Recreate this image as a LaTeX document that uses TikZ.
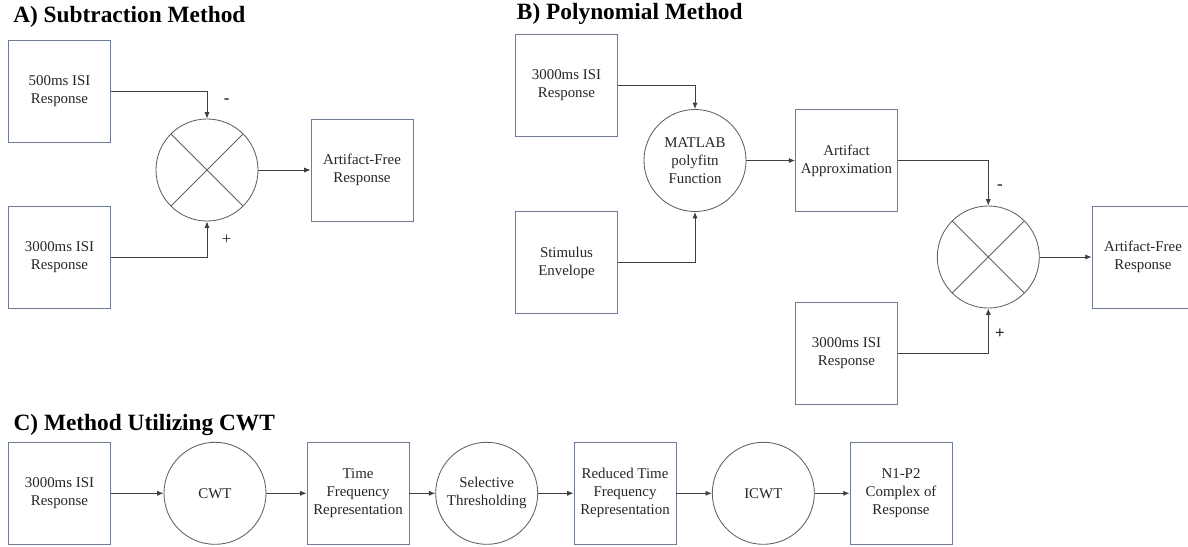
\documentclass[tikz,border=0pt]{standalone}
\usepackage{fontspec}
\setmainfont{Liberation Serif}
\usetikzlibrary{arrows.meta}
\definecolor{boxline}{RGB}{112,124,150}
\definecolor{roundline}{RGB}{95,95,95}

\begin{document}
\begin{tikzpicture}[x=0.025cm,y=-0.025cm,
    blk/.style={draw=boxline,line width=0.6pt,minimum width=2.55cm,minimum height=2.55cm,
      inner sep=0pt,align=center,text=black!85,font=\fontsize{10.6}{12.8}\selectfont},
    rnd/.style={draw=roundline,line width=0.6pt,circle,minimum size=2.55cm,
      inner sep=0pt,align=center,text=black!85,font=\fontsize{10.6}{12.8}\selectfont},
    sum/.style={rnd,path picture={
      \draw[roundline,line width=0.6pt] (path picture bounding box.north west)--(path picture bounding box.south east);
      \draw[roundline,line width=0.6pt] (path picture bounding box.north east)--(path picture bounding box.south west);}},
    conn/.style={draw=black!75,line width=0.6pt,-{Latex[length=4.5pt,width=3.6pt]}},
    sgn/.style={inner sep=0pt,text=black!85,font=\fontsize{12}{12}\selectfont},
    ttl/.style={anchor=west,inner sep=0pt,font=\fontsize{16.6}{18}\selectfont\bfseries}]
  \useasboundingbox (0,0) rectangle (1188,546);

  % A) subtraction
  \node[ttl] (ttlA) at (13,17) {A) Subtraction Method};
  \node[blk] (isiA) at (59.5,91) {500ms ISI\\Response};
  \node[blk] (longA) at (59.5,257) {3000ms ISI\\Response};
  \node[sum] (sumA) at (207,170) {};
  \node[blk] (freeA) at (362,170) {Artifact-Free\\Response};
  \draw[conn] (isiA.east) -| (sumA.north);
  \draw[conn] (longA.east) -| (sumA.south);
  \draw[conn] (sumA) -- (freeA);
  \node[sgn] (minusA) at (226.7,101) {\textbf{-}};
  \node[sgn] (plusA) at (226.7,239.3) {+};

  % B) polynomial
  \node[ttl] (ttlB) at (516.7,14) {B) Polynomial Method};
  \node[blk] (isiB) at (566.5,85) {3000ms ISI\\Response};
  \node[blk] (stimB) at (566.5,262.7) {Stimulus\\Envelope};
  \node[rnd] (fitB) at (695,160.5) {MATLAB\\polyfitn\\Function};
  \node[blk] (approxB) at (846.5,160.5) {Artifact\\Approximation};
  \node[sum] (sumB) at (988.3,257) {};
  \node[blk] (longB) at (846.5,353.3) {3000ms ISI\\Response};
  \node[blk] (freeB) at (1143,257) {Artifact-Free\\Response};
  \draw[conn] (isiB.east) -| (fitB.north);
  \draw[conn] (stimB.east) -| (fitB.south);
  \draw[conn] (fitB) -- (approxB);
  \draw[conn] (approxB.east) -| (sumB.north);
  \draw[conn] (longB.east) -| (sumB.south);
  \draw[conn] (sumB) -- (freeB);
  \node[sgn] (minusB) at (1000,186.7) {\textbf{-}};
  \node[sgn] (plusB) at (1000,333.3) {\textbf{+}};

  % C) CWT
  \node[ttl] (ttlC) at (13.3,425) {C) Method Utilizing CWT};
  \node[blk] (isiC) at (59.5,493.3) {3000ms ISI\\Response};
  \node[rnd] (cwtC) at (215,493.3) {CWT};
  \node[blk] (tfC) at (358,493.3) {Time\\Frequency\\Representation};
  \node[rnd] (thrC) at (486.7,493.3) {Selective\\Thresholding};
  \node[blk] (rtfC) at (625,493.3) {Reduced Time\\Frequency\\Representation};
  \node[rnd] (icwtC) at (763.3,493.3) {ICWT};
  \node[blk] (nopC) at (901,493.3) {N1-P2\\Complex of\\Response};
  \foreach \a/\b in {isiC/cwtC,cwtC/tfC,tfC/thrC,thrC/rtfC,rtfC/icwtC,icwtC/nopC}
    \draw[conn] (\a) -- (\b);
\end{tikzpicture}
\end{document}
